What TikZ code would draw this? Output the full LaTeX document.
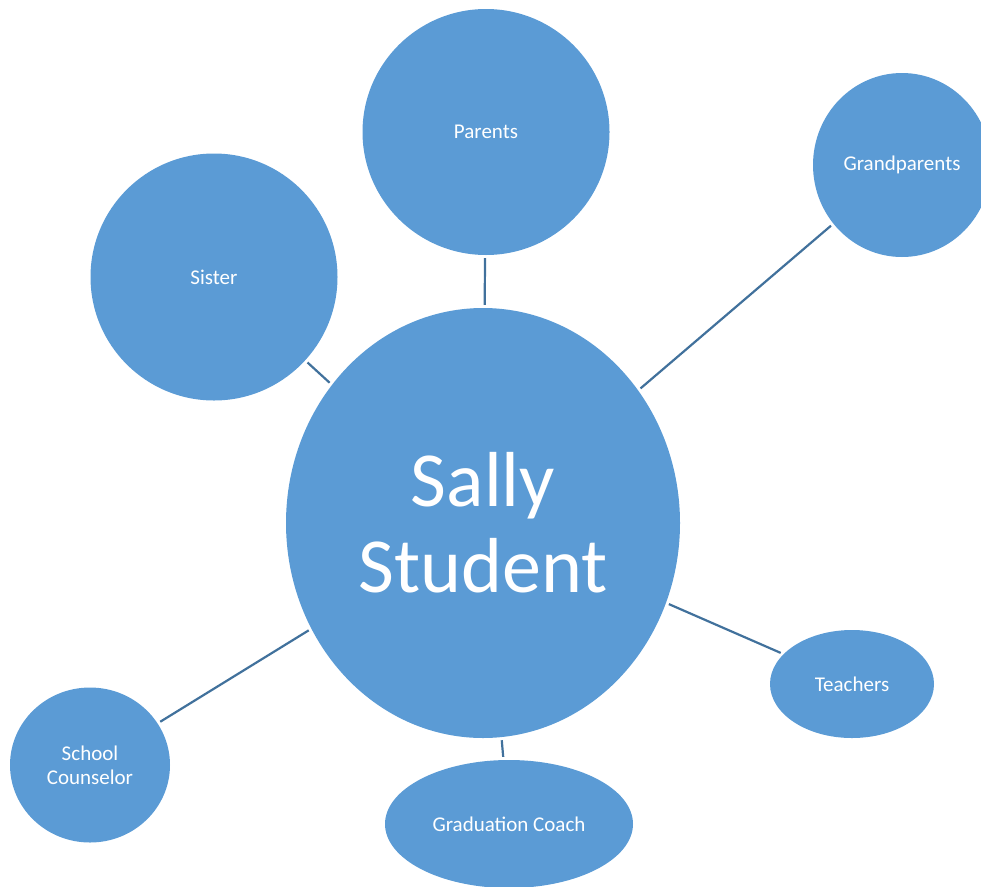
\documentclass[tikz,border=0pt]{standalone}
\usepackage{fontspec}
\setmainfont{Carlito}
\usetikzlibrary{shapes.geometric}
\definecolor{bubble}{HTML}{5B9BD5}
\definecolor{linkc}{HTML}{41719C}
\begin{document}
\begin{tikzpicture}[x=1pt,y=-1pt,
  bub/.style={ellipse, fill=bubble, inner sep=0pt, text=white, align=center,
    font=\fontsize{21}{24}\selectfont},
  link/.style={draw=linkc, line width=2.2pt, shorten <=3pt, shorten >=3pt}]
\useasboundingbox (0,0) rectangle (981,886);
\clip (0,0) rectangle (981,886);
\node[bub, minimum width=394pt, minimum height=430pt,
  font=\fontsize{78}{86}\selectfont] (c) at (483,523) {Sally\\Student};
\node[bub, minimum width=247pt, minimum height=246pt] (par) at (486,132) {Parents};
\node[bub, minimum width=178pt, minimum height=184pt] (gp) at (902,165) {Grandparents};
\node[bub, minimum width=247pt, minimum height=247pt] (sis) at (214,277) {Sister};
\node[bub, minimum width=164pt, minimum height=108pt] (tea) at (852,684) {Teachers};
\node[bub, minimum width=248pt, minimum height=128pt] (gc) at (509,824) {Graduation Coach};
\node[bub, minimum width=160pt, minimum height=155pt] (sc) at (90,765) {School\\Counselor};
\draw[link] (sis) -- (c);
\draw[link] (par) -- (c);
\draw[link] (gp) -- (c);
\draw[link] (tea) -- (c);
\draw[link] (gc) -- (c);
\draw[link] (sc) -- (c);
\end{tikzpicture}
\end{document}
